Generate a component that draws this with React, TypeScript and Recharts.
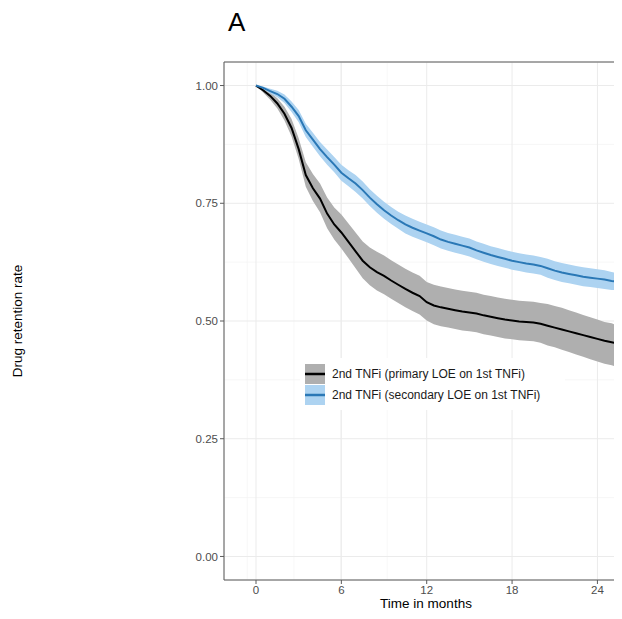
import {
  Area,
  CartesianGrid,
  ComposedChart,
  Legend,
  Line,
  ReferenceLine,
  XAxis,
  YAxis
} from "recharts";

// time in months (KM estimates every half month)
const months = [
  0, 0.5, 1, 1.5, 2, 2.5, 3, 3.5, 4, 4.5, 5, 5.5, 6, 6.5, 7, 7.5, 8, 8.5, 9, 9.5,
  10, 10.5, 11, 11.5, 12, 12.5, 13, 13.5, 14, 14.5, 15, 15.5, 16, 16.5, 17, 17.5,
  18, 18.5, 19, 19.5, 20, 20.5, 21, 21.5, 22, 22.5, 23, 23.5, 24, 24.5, 25, 25.5, 26
];

// 2nd TNFi after primary LOE
const primarySurv = [
  1.0, 0.99, 0.978, 0.962, 0.94, 0.91, 0.865, 0.81, 0.782, 0.76, 0.728, 0.705, 0.688, 0.668,
  0.648, 0.628, 0.614, 0.604, 0.596, 0.586, 0.577, 0.568, 0.56, 0.553, 0.54, 0.533, 0.529,
  0.526, 0.523, 0.52, 0.518, 0.516, 0.512, 0.509, 0.506, 0.503, 0.501, 0.499, 0.498, 0.497,
  0.494, 0.49, 0.486, 0.482, 0.478, 0.474, 0.47, 0.466, 0.462, 0.458, 0.455, 0.451, 0.448
];
const primaryLower = [
  1.0, 0.985, 0.97, 0.951, 0.926, 0.892, 0.844, 0.785, 0.755, 0.731, 0.697, 0.673, 0.654, 0.633,
  0.612, 0.591, 0.576, 0.565, 0.557, 0.547, 0.538, 0.529, 0.521, 0.514, 0.501, 0.493, 0.489,
  0.486, 0.483, 0.48, 0.478, 0.476, 0.472, 0.469, 0.466, 0.463, 0.461, 0.459, 0.458, 0.457,
  0.454, 0.448, 0.444, 0.439, 0.434, 0.429, 0.424, 0.419, 0.414, 0.409, 0.406, 0.401, 0.398
];
const primaryUpper = [
  1.0, 0.995, 0.986, 0.973, 0.955, 0.929, 0.888, 0.837, 0.812, 0.792, 0.762, 0.741, 0.726, 0.707,
  0.688, 0.669, 0.656, 0.647, 0.639, 0.629, 0.62, 0.611, 0.603, 0.596, 0.583, 0.577, 0.573,
  0.57, 0.567, 0.564, 0.562, 0.56, 0.556, 0.553, 0.55, 0.547, 0.545, 0.543, 0.542, 0.541,
  0.538, 0.536, 0.532, 0.528, 0.523, 0.518, 0.513, 0.508, 0.503, 0.498, 0.495, 0.49, 0.487
];

// 2nd TNFi after secondary LOE
const secondarySurv = [
  1.0, 0.995, 0.988, 0.982, 0.972, 0.955, 0.935, 0.905, 0.885, 0.865, 0.848, 0.832, 0.815, 0.803,
  0.792, 0.778, 0.762, 0.748, 0.735, 0.724, 0.714, 0.705, 0.698, 0.692, 0.686, 0.68, 0.673,
  0.668, 0.664, 0.66, 0.656, 0.65, 0.645, 0.64, 0.636, 0.632, 0.628, 0.625, 0.622, 0.62,
  0.617, 0.612, 0.607, 0.603, 0.6, 0.597, 0.594, 0.592, 0.59, 0.588, 0.585, 0.583, 0.581
];
const secondaryLower = [
  1.0, 0.992, 0.983, 0.975, 0.963, 0.944, 0.922, 0.891, 0.87, 0.85, 0.832, 0.816, 0.798, 0.786,
  0.774, 0.76, 0.744, 0.73, 0.717, 0.706, 0.696, 0.686, 0.679, 0.673, 0.667, 0.661, 0.654,
  0.649, 0.645, 0.641, 0.637, 0.631, 0.626, 0.621, 0.617, 0.613, 0.609, 0.606, 0.603, 0.601,
  0.598, 0.592, 0.587, 0.583, 0.58, 0.577, 0.574, 0.572, 0.57, 0.568, 0.566, 0.565, 0.563
];
const secondaryUpper = [
  1.0, 0.998, 0.993, 0.989, 0.981, 0.966, 0.948, 0.919, 0.9, 0.88, 0.864, 0.848, 0.832, 0.82,
  0.81, 0.796, 0.78, 0.766, 0.753, 0.742, 0.732, 0.724, 0.717, 0.711, 0.705, 0.699, 0.692,
  0.687, 0.683, 0.679, 0.675, 0.669, 0.664, 0.659, 0.655, 0.651, 0.647, 0.644, 0.641, 0.639,
  0.636, 0.632, 0.627, 0.623, 0.62, 0.617, 0.614, 0.612, 0.61, 0.608, 0.604, 0.601, 0.599
];

const xTicks = [0, 6, 12, 18, 24];
const yTicks = [0, 0.25, 0.5, 0.75, 1];
const xMinor = [3, 9, 15, 21];
const yMinor = [0.125, 0.375, 0.625, 0.875];
const xDomain = [-2.25, 26.15];
const yDomain = [-0.05, 1.05];

const seriesNames = [
  "2nd TNFi (primary LOE on 1st TNFi)",
  "2nd TNFi (secondary LOE on 1st TNFi)"
];

const FONT = "'Liberation Sans', Arial, Helvetica, sans-serif";
const GREY_BAND = "#afafaf";
const BLUE_BAND = "#add3f1";
const BLUE_LINE = "#2a78b6";

const rows = months.map((t, i) => ({
  t,
  pS: primarySurv[i],
  pLo: primaryLower[i],
  pHi: primaryUpper[i],
  sS: secondarySurv[i],
  sLo: secondaryLower[i],
  sHi: secondaryUpper[i]
}));

const legendItems = [
  { name: seriesNames[0], band: GREY_BAND, line: "#000" },
  { name: seriesNames[1], band: BLUE_BAND, line: BLUE_LINE }
];

const KmLegend = () => (
  <div style={{ background: "#fff", padding: 5, fontFamily: FONT }}>
    {legendItems.map((it) => (
      <div key={it.name} style={{ display: "flex", alignItems: "center", height: 21 }}>
        <svg width={20} height={20} style={{ display: "block" }}>
          <rect x={0} y={0} width={20} height={20} fill={it.band} />
          <line x1={0} x2={20} y1={10} y2={10} stroke={it.line} strokeWidth={2.5} />
        </svg>
        <span style={{ marginLeft: 7, fontSize: 12, color: "#1a1a1a", whiteSpace: "nowrap" }}>
          {it.name}
        </span>
      </div>
    ))}
  </div>
);

const tickStyle = { fontSize: 11.5, fill: "#4d4d4d", fontFamily: FONT };

export default function App() {
  return (
    <div
      style={{
        position: "relative",
        width: 614,
        height: 603,
        overflow: "hidden",
        fontFamily: FONT
      }}
    >
      <ComposedChart
        width={620}
        height={603}
        data={rows}
        margin={{ top: 54, right: 0, left: 0, bottom: 9 }}
      >
        {/* minor grid from hidden axes, then major grid */}
        <CartesianGrid xAxisId="minor" yAxisId="minor" stroke="#f4f4f4" strokeWidth={0.7} />
        <CartesianGrid stroke="#ebebeb" strokeWidth={1} />
        <XAxis
          xAxisId="minor"
          type="number"
          domain={xDomain}
          ticks={xMinor}
          allowDataOverflow
          hide
        />
        <YAxis
          yAxisId="minor"
          type="number"
          domain={yDomain}
          ticks={yMinor}
          allowDataOverflow
          hide
        />
        <XAxis
          type="number"
          dataKey="t"
          domain={xDomain}
          ticks={xTicks}
          allowDataOverflow
          height={22}
          tickSize={4}
          tick={tickStyle}
          stroke="#5a5a5a"
        />
        <YAxis
          type="number"
          domain={yDomain}
          ticks={yTicks}
          allowDataOverflow
          width={216}
          tickSize={4}
          tick={tickStyle}
          stroke="#5a5a5a"
          tickFormatter={(v: number) => v.toFixed(2)}
          label={{
            value: "Drug retention rate",
            angle: -90,
            position: "insideLeft",
            offset: 9.5,
            style: { fontSize: 13.5, fill: "#000", fontFamily: FONT, textAnchor: "middle" }
          }}
        />
        <Area
          type="linear"
          dataKey={(d: any) => [d.pLo, d.pHi]}
          fill={GREY_BAND}
          fillOpacity={1}
          stroke="none"
          isAnimationActive={false}
        />
        <Area
          type="linear"
          dataKey={(d: any) => [d.sLo, d.sHi]}
          fill={BLUE_BAND}
          fillOpacity={1}
          stroke="none"
          isAnimationActive={false}
        />
        <Line
          type="linear"
          dataKey="pS"
          stroke="#000"
          strokeWidth={2}
          dot={false}
          isAnimationActive={false}
        />
        <Line
          type="linear"
          dataKey="sS"
          stroke={BLUE_LINE}
          strokeWidth={2}
          dot={false}
          isAnimationActive={false}
        />
        <ReferenceLine y={yDomain[1]} stroke="#5a5a5a" strokeWidth={1} />
        <Legend
          layout="vertical"
          align="center"
          verticalAlign="middle"
          content={() => <KmLegend />}
          wrapperStyle={{ left: 292, top: 350, width: 265, height: "auto" }}
        />
      </ComposedChart>
      <div
        style={{
          position: "absolute",
          left: 318,
          top: 589,
          width: 200,
          textAlign: "center",
          fontSize: 13.5,
          lineHeight: 1,
          color: "#000",
          fontFamily: FONT
        }}
      >
        Time in months
      </div>
      <div
        style={{
          position: "absolute",
          left: 220,
          top: 1,
          fontSize: 26,
          lineHeight: 1,
          color: "#000",
          fontFamily: FONT
        }}
      >
        A
      </div>
    </div>
  );
}
